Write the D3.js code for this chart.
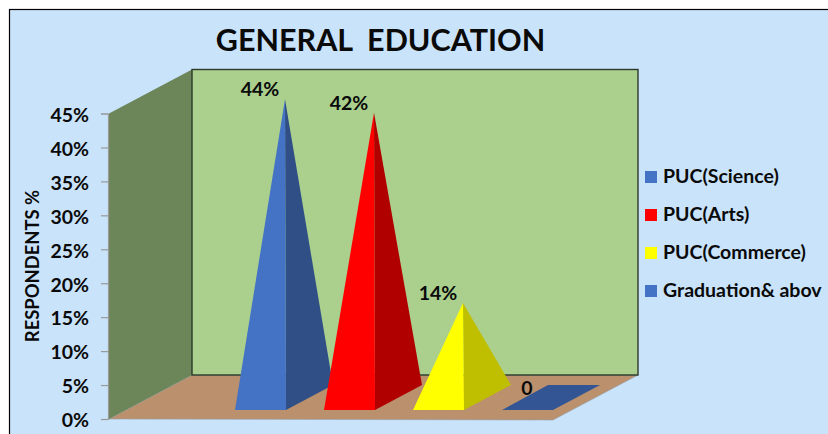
<!DOCTYPE html>
<html><head><meta charset="utf-8">
<script src="https://cdn.jsdelivr.net/npm/d3@7/dist/d3.min.js"></script>
<style>
html,body{margin:0;padding:0;background:#fff;overflow:hidden}
text{font-family:Lato,"Open Sans",sans-serif;font-weight:700;fill:#0a0a0a}
</style></head><body>
<svg id="c" width="828" height="434"></svg>
<script>
const categories = ["PUC(Science)","PUC(Arts)","PUC(Commerce)","Graduation& abov"];
const values = [44,42,14,0];
const valueLabels = ["44%","42%","14%","0"];
const frontColors = ["#4472C4","#FF0000","#FFFF00","#335593"];
const sideColors = ["#2F4F86","#B00000","#BFBF00","#335593"];
const legendColors = ["#4472C4","#FF0000","#FFFF00","#4472C4"];
const yTicks = [0,5,10,15,20,25,30,35,40,45];

const svg = d3.select("#c");
const line = d3.line();
const y = d3.scaleLinear().domain([0,45]).range([419,113.5]);
const x = d3.scaleBand().domain(categories).range([235,553]).paddingInner(38/89).paddingOuter(0);
const legendY = d3.scalePoint().domain(categories).range([177,291]);

// depth projection of the 3D box
const depth = {dx:83, dy:-44};
const floorL = 109, floorR = 555;
const poly = (pts,fill,extra={}) => {
  const p = svg.append("path").attr("d", line(pts)+"Z").attr("fill",fill);
  Object.entries(extra).forEach(([k,v])=>p.attr(k,v));
  return p;
};

// background
svg.append("rect").attr("x",9.5).attr("y",9.5).attr("width",830).attr("height",440)
  .attr("fill","#C9E3FA").attr("stroke","#000").attr("stroke-width",1.2);

// walls
const y0 = y(0), yTop = y(45);
poly([[floorL,y0],[floorL+depth.dx,y0+depth.dy],[floorR+depth.dx,y0+depth.dy],[floorR-2,y0+1]],"#BA906D",
  {stroke:"#98A0A8","stroke-width":0.6});
poly([[floorL,y0],[floorL,yTop],[floorL+depth.dx,yTop+depth.dy],[floorL+depth.dx,y0+depth.dy]],"#6C8559");
svg.append("rect").attr("x",floorL+depth.dx).attr("y",yTop+depth.dy).attr("width",floorR-floorL)
  .attr("height",y0-yTop).attr("fill","#ABD08E").attr("stroke","#2b3a2b").attr("stroke-width",1.4);

// y axis
const axis = d3.axisLeft(y).tickValues(yTicks).tickFormat(d=>d+"%").tickSize(7).tickPadding(12);
const gA = svg.append("g").attr("transform",`translate(${floorL-1},0)`).call(axis);
gA.selectAll("path,line").attr("stroke","#9a9a9a").attr("stroke-width",1.2);
gA.selectAll("text").attr("dy","0.4em").style("font-size","19.5px").style("font-family","Lato").style("font-weight",700).attr("fill","#0a0a0a");

// axis title
svg.append("text").attr("transform","translate(39,266) rotate(-90)").attr("text-anchor","middle")
  .style("font-size","18.4px").text("RESPONDENTS %");

// chart title
svg.append("text").attr("x",380.5).attr("y",51).attr("text-anchor","middle")
  .attr("xml:space","preserve").style("white-space","pre").style("font-size","30.5px").text("GENERAL  EDUCATION");

// pyramids
const baseY = 410, baseDx = 47, baseDy = -25, apexOff = -21;
categories.forEach((c,i)=>{
  const fl = x(c), fr = fl + x.bandwidth();
  const apex = [fr-1, y(values[i])+apexOff];
  if(values[i]===0){
    poly([[fl,baseY],[fr,baseY],[fr+baseDx,baseY+baseDy],[fl+baseDx-1,baseY+baseDy]],frontColors[i]);
  } else {
    poly([apex,[fr,baseY],[fr+baseDx,baseY+baseDy]],sideColors[i]);
    poly([apex,[fl,baseY],[fr,baseY]],frontColors[i]);
  }
  svg.append("text").attr("x",apex[0]-25).attr("y",apex[1]-3).attr("text-anchor","middle")
    .style("font-size","19.5px").text(valueLabels[i]);
});

// legend
categories.forEach((c,i)=>{
  const cy = legendY(c);
  svg.append("rect").attr("x",645).attr("y",cy-6).attr("width",12).attr("height",12).attr("fill",legendColors[i]);
  svg.append("text").attr("x",663).attr("y",cy+6).style("font-size","19.5px").text(c);
});
</script></body></html>
